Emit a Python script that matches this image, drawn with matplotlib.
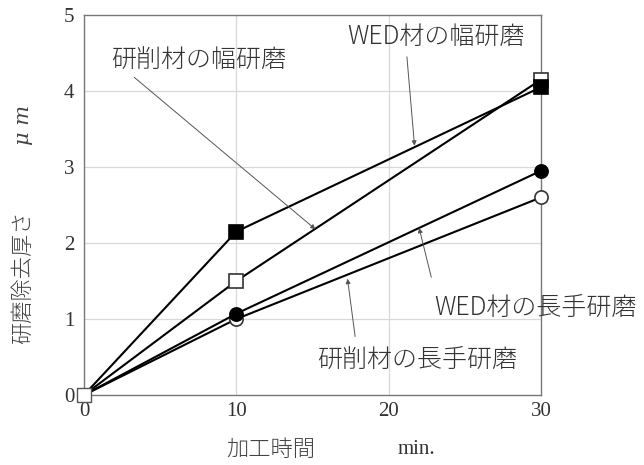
import matplotlib
matplotlib.use("Agg")
import matplotlib.pyplot as plt

plt.rcParams['font.family'] = ['Noto Sans CJK JP', 'DejaVu Sans']

# Machining time (min)
time_min = [0, 10, 30]

# Removed thickness (μm) for each grinding condition
wed_width = [0, 2.15, 4.05]        # WED材の幅研磨 (filled square)
ground_width = [0, 1.5, 4.15]      # 研削材の幅研磨 (open square)
wed_length = [0, 1.07, 2.95]       # WED材の長手研磨 (filled circle)
ground_length = [0, 1.0, 2.6]      # 研削材の長手研磨 (open circle)

x_ticks = [0, 10, 20, 30]
y_ticks = [0, 1, 2, 3, 4, 5]

fig = plt.figure(figsize=(6.44, 4.65), dpi=100)
ax = fig.add_axes([0.1304, 0.1505, 0.7096, 0.8172])

ax.set_xlim(0, 30)
ax.set_ylim(0, 5)

for v in [10, 20]:
    ax.axvline(v, color='#d8d8d8', lw=0.9, zorder=0)
for v in [1, 2, 3, 4]:
    ax.axhline(v, color='#d8d8d8', lw=0.9, zorder=0)

line_kw = dict(color='black', lw=1.5, markersize=9.5, markeredgewidth=1.2,
               markevery=[1, 2], clip_on=False, zorder=3)
ax.plot(time_min, ground_width, marker='s', markerfacecolor='white',
        markeredgecolor='#333333', **line_kw)
ax.plot(time_min, wed_width, marker='s', markerfacecolor='black',
        markeredgecolor='black', **line_kw)
ax.plot(time_min, ground_length, marker='o', markerfacecolor='white',
        markeredgecolor='#333333', **line_kw)
ax.plot(time_min, wed_length, marker='o', markerfacecolor='black',
        markeredgecolor='black', **line_kw)
# common origin point
ax.plot([time_min[0]], [ground_width[0]], marker='s', markersize=9.5,
        markerfacecolor='white', markeredgecolor='#555555',
        markeredgewidth=1.0, clip_on=False, zorder=4, ls='none')

for s in ax.spines.values():
    s.set_color('#777777')
    s.set_linewidth(1.0)

ax.set_xticks(x_ticks)
ax.set_yticks(y_ticks)
ax.tick_params(length=0, labelsize=15)
for lab in ax.get_xticklabels() + ax.get_yticklabels():
    lab.set_family('Liberation Serif')
    lab.set_color('#333333')
ax.tick_params(axis='x', pad=5)
ax.tick_params(axis='y', pad=7)

txt_kw = dict(fontsize=18, color='#333333', fontweight='light')
arrow_kw = dict(arrowstyle='-|>', color='#555555', lw=0.7,
                mutation_scale=7, shrinkA=0, shrinkB=0)

# width-grinding labels
ax.text(1.8, 4.41, '研削材の幅研磨', ha='left', va='center', **txt_kw)
ax.annotate('', xy=(15.2, 2.18), xytext=(3.3, 4.18), arrowprops=arrow_kw)

ax.text(17.3, 4.72, 'WED材の幅研磨', ha='left', va='center', **txt_kw)
ax.annotate('', xy=(21.7, 3.28), xytext=(21.2, 4.45), arrowprops=arrow_kw)

# length-grinding labels
ax.text(23.0, 1.15, 'WED材の長手研磨', ha='left', va='center', **txt_kw)
ax.annotate('', xy=(22.0, 2.2), xytext=(22.8, 1.55), arrowprops=arrow_kw)

ax.text(15.3, 0.47, '研削材の長手研磨', ha='left', va='center', **txt_kw)
ax.annotate('', xy=(17.3, 1.53), xytext=(17.8, 0.77), arrowprops=arrow_kw)

fig.text(0.036, 0.404, '研磨除去厚さ', rotation=90, ha='center', va='center',
         fontsize=16, color='#444444', fontweight='light')
fig.text(0.036, 0.731, 'μ m', rotation=90, ha='center', va='center',
         fontsize=15, color='#444444', family='DejaVu Serif', style='italic')
fig.text(0.420, 0.033, '加工時間', ha='center', va='center',
         fontsize=16, color='#444444', fontweight='light')
fig.text(0.646, 0.033, 'min.', ha='center', va='center',
         fontsize=15, color='#333333', family='Liberation Serif')

fig.savefig('out.png', dpi=100)
